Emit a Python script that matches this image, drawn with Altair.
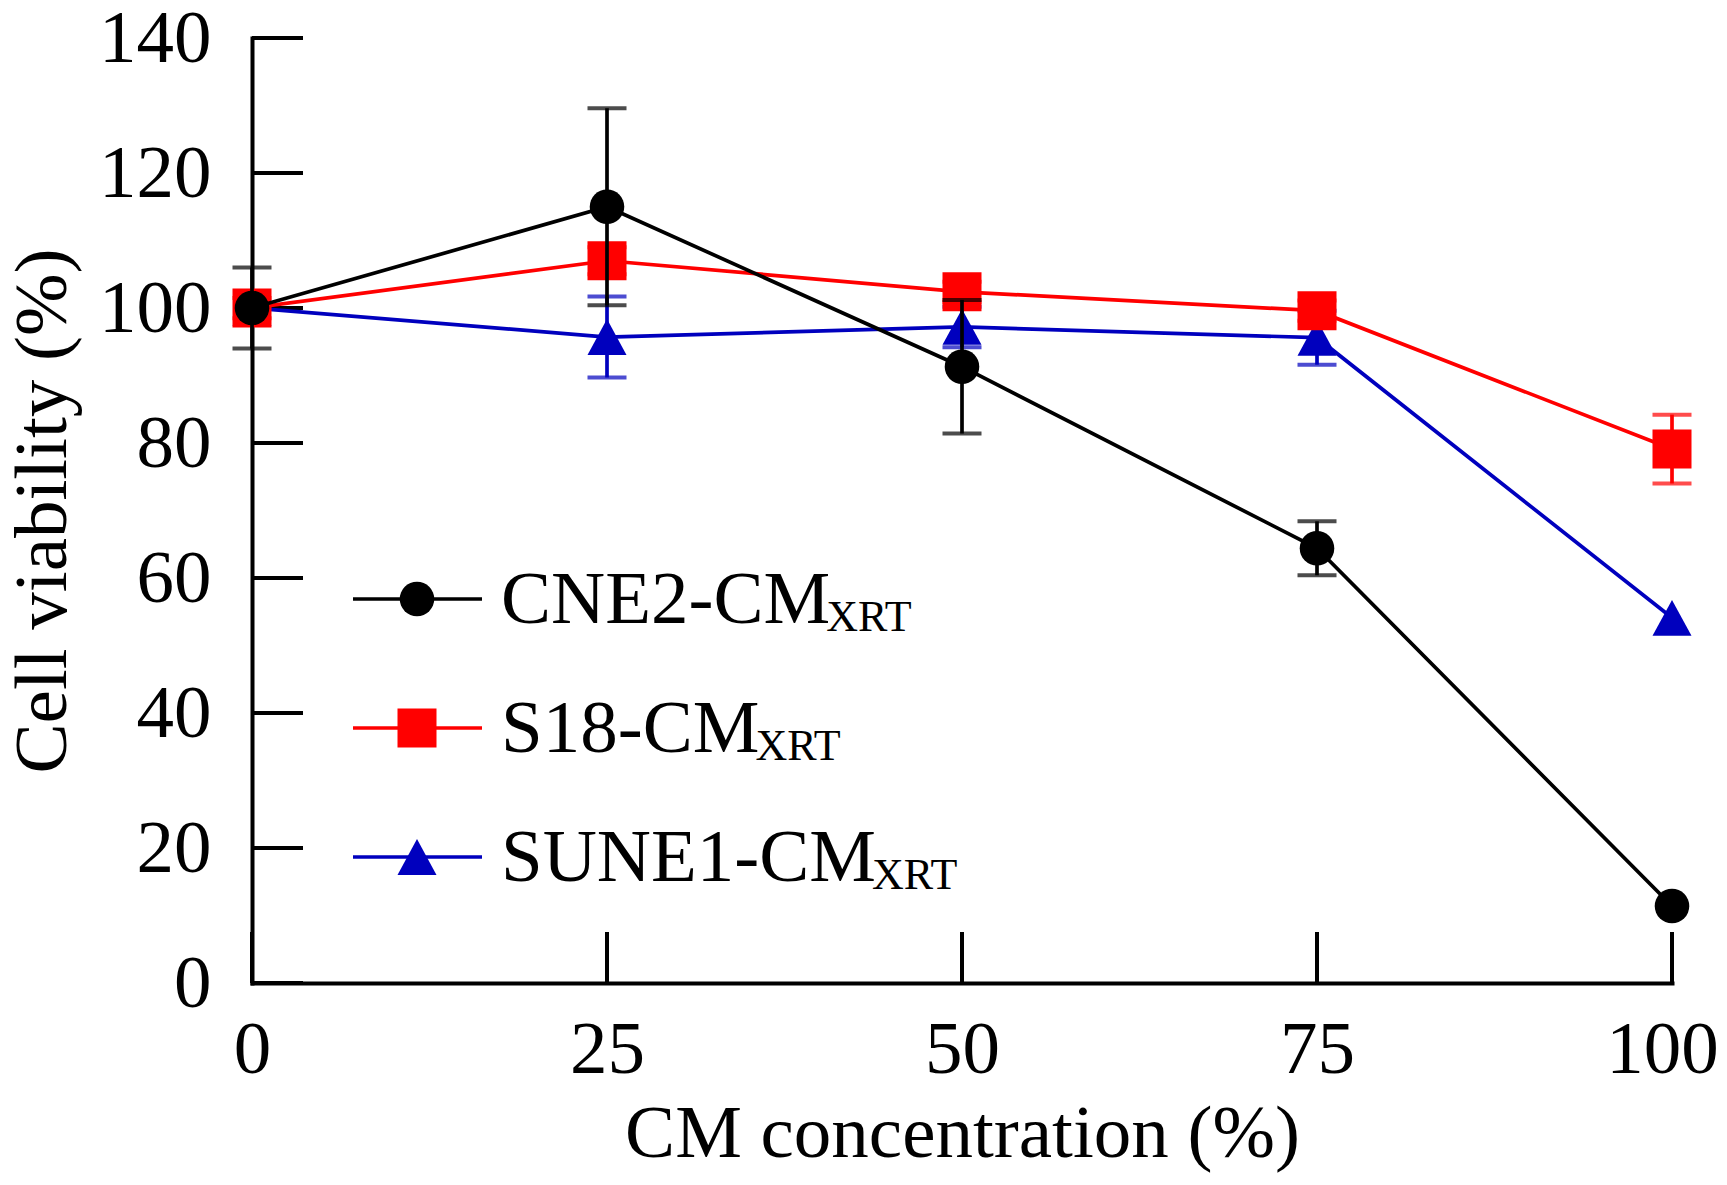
import altair as alt
import pandas as pd

# ---------------- data ----------------
conc = [0, 25, 50, 75, 100]
series_names = ["CNE2-CM", "S18-CM", "SUNE1-CM"]
subscript = "XRT"

cne2 = [100.0, 115.0, 91.3, 64.4, 11.4]
cne2_err = [6.0, 14.6, 9.9, 4.0, 0.0]

s18 = [100.0, 107.0, 102.4, 99.6, 79.1]
s18_err = [1.5, 2.0, 1.5, 1.5, 5.1]

sune1 = [100.0, 95.7, 97.2, 95.6, 54.1]
sune1_err = [0.0, 6.0, 3.0, 4.0, 0.0]

y_ticks = [0, 20, 40, 60, 80, 100, 120, 140]
x_ticks = [0, 25, 50, 75, 100]

# ---------------- styling ----------------
W, H = 1420, 945
FONT = "Liberation Serif"
colors = {"CNE2-CM": "#000000", "S18-CM": "#FF0000", "SUNE1-CM": "#0000BE"}
TRI = "M-1,0.92L0,-0.92L1,0.92Z"
shapes = {"CNE2-CM": ("circle", 1195), "S18-CM": ("square", 1521), "SUNE1-CM": (TRI, 1521)}

values = {"CNE2-CM": (cne2, cne2_err), "S18-CM": (s18, s18_err), "SUNE1-CM": (sune1, sune1_err)}

xscale = alt.Scale(domain=[0, 100], nice=False, zero=False)
yscale = alt.Scale(domain=[0, 140], nice=False, zero=False)

common_axis = dict(
    ticks=False, tickSize=0, grid=False,
    labelFont=FONT, labelFontSize=75, labelColor="black",
    domainColor="black", domainWidth=4, domainCap="square",
    titleFont=FONT, titleFontSize=75, titleFontWeight="normal", titleColor="black",
    labelFlush=False, labelOverlap=False,
)
xaxis = alt.Axis(values=x_ticks, labelPadding=30, title="CM concentration (%)",
                 labelOffset={"condition": {"test": "datum.value == 100", "value": -10}, "value": 0},
                 titleX=W / 2, titleY=173, titleBaseline="alphabetic", titleAlign="center",
                 titleAngle=0, **common_axis)
yaxis = alt.Axis(values=y_ticks, labelPadding=41, title="Cell viability (%)",
                 titleX=-187, titleY=H / 2, titleBaseline="alphabetic", titleAlign="center",
                 titleAngle=270, **common_axis)

X = lambda f: alt.X(f, type="quantitative", scale=xscale, axis=xaxis)
Y = lambda f: alt.Y(f, type="quantitative", scale=yscale, axis=yaxis)

LW = 3.7
layers = []

# inward tick marks
ydf = pd.DataFrame({"v": y_ticks})
xdf = pd.DataFrame({"v": x_ticks})
layers.append(alt.Chart(ydf).mark_rule(color="black", strokeWidth=4).encode(
    y=Y("v"), x=alt.value(0), x2=alt.value(51)))
layers.append(alt.Chart(xdf).mark_rule(color="black", strokeWidth=4).encode(
    x=X("v"), y=alt.value(H), y2=alt.value(H - 51)))

# series: drawn bottom -> top
for name in ["SUNE1-CM", "S18-CM", "CNE2-CM"]:
    vals, errs = values[name]
    df = pd.DataFrame({"conc": conc, "value": vals, "err": errs})
    df["lo"] = df["value"] - df["err"]
    df["hi"] = df["value"] + df["err"]
    edf = df[df["err"] > 0]
    c = colors[name]
    shp, sz = shapes[name]
    layers.append(alt.Chart(edf).mark_rule(color=c, strokeWidth=LW).encode(
        x=X("conc"), y=Y("lo"), y2="hi"))
    layers.append(alt.Chart(edf).mark_tick(color=c, orient="horizontal", size=39, thickness=4).encode(
        x=X("conc"), y=Y("lo")))
    layers.append(alt.Chart(edf).mark_tick(color=c, orient="horizontal", size=39, thickness=4).encode(
        x=X("conc"), y=Y("hi")))
    layers.append(alt.Chart(df).mark_line(color=c, strokeWidth=LW).encode(
        x=X("conc"), y=Y("value")))
    layers.append(alt.Chart(df).mark_point(shape=shp, size=sz, filled=True, opacity=1,
                                           color=c, strokeWidth=0).encode(
        x=X("conc"), y=Y("value")))

# ---------------- manual legend (with subscripts) ----------------
TIMES = {'C': 0.667, 'N': 0.722, 'E': 0.611, '2': 0.5, '-': 0.333, 'M': 0.889,
         'S': 0.556, '1': 0.5, '8': 0.5, 'U': 0.722}
def text_width(s, fs):
    return sum(TIMES.get(ch, 0.5) for ch in s) * fs

legend_rows = [561, 690, 819]
one = pd.DataFrame({"k": [0]})
for name, ly in zip(series_names, legend_rows):
    c = colors[name]
    shp, sz = shapes[name]
    layers.append(alt.Chart(one).mark_rule(color=c, strokeWidth=LW).encode(
        x=alt.value(101), x2=alt.value(230), y=alt.value(ly)))
    layers.append(alt.Chart(one).mark_point(shape=shp, size=sz, filled=True, opacity=1,
                                            color=c, strokeWidth=0).encode(
        x=alt.value(165), y=alt.value(ly)))
    layers.append(alt.Chart(one).mark_text(text=name, font=FONT, fontSize=75, color="black",
                                           align="left", baseline="alphabetic").encode(
        x=alt.value(249), y=alt.value(ly + 24)))
    layers.append(alt.Chart(one).mark_text(text=subscript, font=FONT, fontSize=44, color="black",
                                           align="left", baseline="alphabetic").encode(
        x=alt.value(249 + text_width(name, 75) - 4), y=alt.value(ly + 32)))

chart = alt.layer(*layers).properties(
    width=W, height=H,
    autosize=alt.AutoSizeParams(type="none"),
    padding={"left": 244, "top": 30, "right": 47, "bottom": 190},
    background="white",
).configure_view(stroke=None)

chart.save("out.html", embed_options={"renderer": "svg", "actions": False})
